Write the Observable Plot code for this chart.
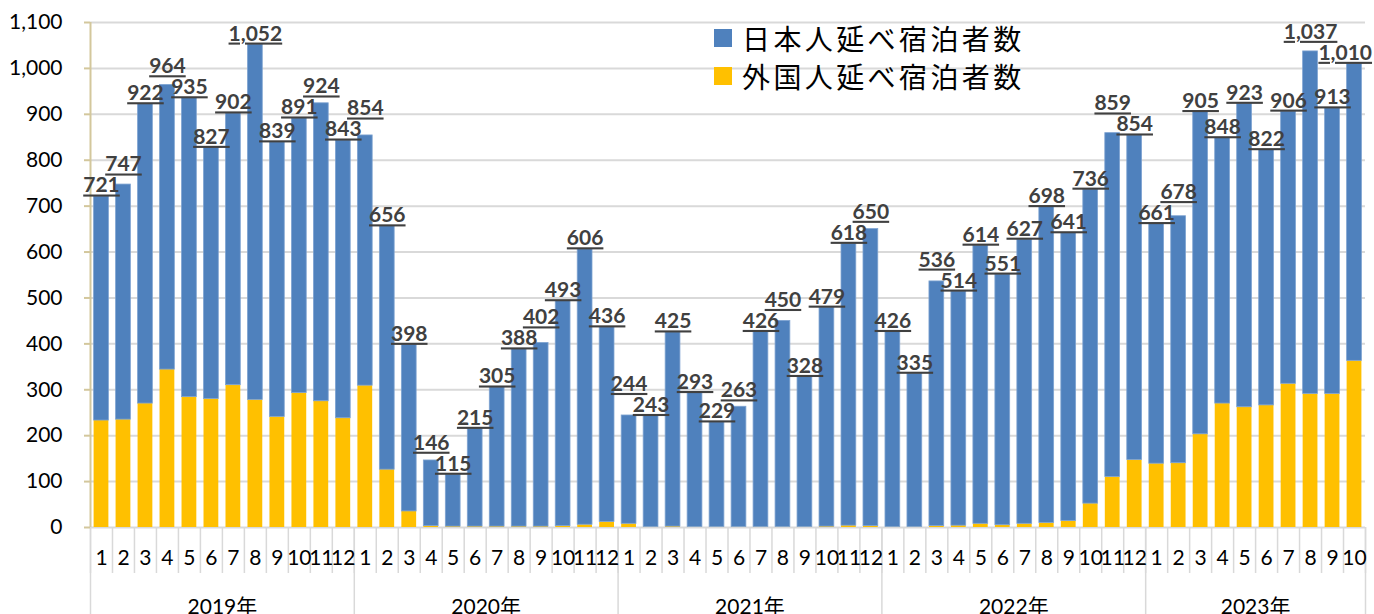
<!DOCTYPE html>
<html>
<head>
<meta charset="utf-8">
<script src="https://cdn.jsdelivr.net/npm/d3@7"></script>
<script src="https://cdn.jsdelivr.net/npm/@observablehq/plot@0.6"></script>
<style>
  html, body { margin: 0; padding: 0; background: #fff; overflow: hidden; }
  #wrap { position: relative; width: 1374px; height: 614px; }
  #legend { position: absolute; left: 714px; top: 19px; font-family: "Noto Sans CJK JP", sans-serif; font-size: 28px; letter-spacing: 3.4px; color: #000; line-height: 38px; }
  #legend .row { display: flex; align-items: center; }
  #legend .sw { width: 18px; height: 18px; margin-right: 10px; display: inline-block; }
  svg text.lbl { text-decoration: underline; }
</style>
</head>
<body>
<div id="wrap"></div>
<script>
// ---- data ----
const years = ["2019年", "2020年", "2021年", "2022年", "2023年"];
const monthsPerYear = [12, 12, 12, 12, 10];
const seriesNames = ["日本人延べ宿泊者数", "外国人延べ宿泊者数"];
const seriesColors = ["#4F81BD", "#FFC000"];

// total stays (labels on top of bars)
const totals = [
  721, 747, 922, 964, 935, 827, 902, 1052, 839, 891, 924, 843,
  854, 656, 398, 146, 115, 215, 305, 388, 402, 493, 606, 436,
  244, 243, 425, 293, 229, 263, 426, 450, 328, 479, 618, 650,
  426, 335, 536, 514, 614, 551, 627, 698, 641, 736, 859, 854,
  661, 678, 905, 848, 923, 822, 906, 1037, 913, 1010
];
// foreign stays (yellow)
const foreign = [
  233, 235, 270, 344, 284, 280, 310, 278, 241, 293, 275, 238,
  309, 126, 35, 3, 2, 2, 2, 2, 2, 3, 6, 12,
  8, 1, 2, 1, 1, 1, 1, 1, 1, 2, 4, 3,
  1, 1, 3, 4, 8, 5, 8, 10, 14, 52, 110, 147,
  139, 140, 203, 270, 262, 266, 313, 291, 291, 363
];
const yTicks = d3.range(0, 1101, 100);

// ---- layout constants ----
const W = 1374, H = 614, mL = 90, mR = 9, mT = 22, mB = 87;
const labelFont = 21;

// ---- build table ----
const rows = [];
let idx = 0;
years.forEach((yr, yi) => {
  for (let m = 1; m <= monthsPerYear[yi]; m++) {
    rows.push({i: idx, month: m, year: yr, total: totals[idx], foreign: foreign[idx], japanese: totals[idx] - foreign[idx]});
    idx++;
  }
});
const N = rows.length;
const yearStarts = [];
const yearMids = [];
let s = 0;
years.forEach((yr, yi) => { yearStarts.push(s); yearMids.push({year: yr, x: s + monthsPerYear[yi] / 2}); s += monthsPerYear[yi]; });
yearStarts.push(N);
const monthBounds = d3.range(0, N + 1);

// ---- label placement: keep inside the page, then raise overlapping labels ----
const yPix = d3.scaleLinear([0, 1100], [H - mB, mT]);
const xPix = d3.scaleLinear([0, N], [mL, W - mR]);
const fmt = d3.format(",");
const gap = 4, lineH = 21;
const lab = rows.map(d => {
  const text = fmt(d.total);
  const half = (text.replace(/,/g, "").length * 0.58 + (text.includes(",") ? 0.28 : 0)) * labelFont / 2;
  const cx = Math.min(xPix(d.i + 0.5), W - 2 - half);
  return {text, half, cx, py: yPix(d.total) - gap};
});
for (let pass = 0; pass < 40; pass++) {
  let changed = false;
  for (let k = 0; k < N; k++) {
    for (let j = k + 1; j <= Math.min(N - 1, k + 3); j++) {
      const a = lab[k], b = lab[j];
      const hOverlap = Math.abs(a.cx - b.cx) < a.half + b.half;
      if (hOverlap && Math.abs(a.py - b.py) < lineH - 0.01) {
        const hi = a.py <= b.py ? a : b;
        const lo = hi === a ? b : a;
        hi.py = lo.py - lineH;
        changed = true;
      }
    }
  }
  if (!changed) break;
}
rows.forEach((d, k) => {
  d.label = lab[k].text;
  d.labelX = xPix.invert(lab[k].cx);
  d.labelY = yPix.invert(lab[k].py);
});

const font = "Lato, 'Noto Sans CJK JP', sans-serif";

const chart = Plot.plot({
  width: W,
  height: H,
  marginLeft: mL,
  marginRight: mR,
  marginTop: mT,
  marginBottom: mB,
  style: {fontFamily: font, background: "#fff"},
  x: {domain: [0, N], axis: null},
  y: {domain: [0, 1100], axis: null},
  marks: [
    // gridlines
    Plot.ruleY(yTicks, {y: d => d, x1: 0, x2: N, stroke: "#d9d9d9", strokeWidth: 2}),
    // bars
    Plot.rectY(rows, {x1: d => d.i, x2: d => d.i + 1, y1: 0, y2: "foreign", fill: seriesColors[1], insetLeft: 3.6, insetRight: 3.6}),
    Plot.rectY(rows, {x1: d => d.i, x2: d => d.i + 1, y1: "foreign", y2: "total", fill: seriesColors[0], stroke: "#7ea3d1", strokeWidth: 0.8, insetLeft: 3.6, insetRight: 3.6}),
    // month separators
    Plot.ruleX(monthBounds, {x: d => d, y1: 0, y2: 0, insetBottom: -46, stroke: "#d9d9d9", strokeWidth: 1.5}),
    // year separators
    Plot.ruleX(yearStarts, {x: d => d, y1: 0, y2: 0, insetBottom: -100, stroke: "#d9d9d9", strokeWidth: 1.5}),
    // y axis line
    Plot.ruleX([0], {x: d => d, y1: 0, y2: 1100, stroke: "#d3c79c", strokeWidth: 2}),
    // y ticks
    Plot.ruleY(yTicks, {y: d => d, x1: 0, x2: 0, insetLeft: -6, stroke: "#d3c79c", strokeWidth: 2}),
    // y tick labels
    Plot.text(yTicks, {x: 0, y: d => d, text: d => fmt(d), textAnchor: "end", dx: -28, fontSize: 21, fill: "#000"}),
    // month labels
    Plot.text(rows, {x: d => d.i + 0.5, y: 0, text: d => String(d.month), dy: 31, fontSize: 21, fill: "#000"}),
    // year labels
    Plot.text(yearMids, {x: "x", y: 0, text: "year", dy: 80, fontSize: 21, fill: "#000"}),
    // value labels
    Plot.text(rows, {x: "labelX", y: "labelY", text: "label", lineAnchor: "bottom", fontSize: labelFont, fontWeight: "bold", fill: "#404040"})
  ]
});

// underline value labels
d3.select(chart).selectAll("g[aria-label='text']").filter((d, i, nodes) => i === nodes.length - 1).selectAll("text").attr("class", "lbl");

const wrap = document.getElementById("wrap");
wrap.appendChild(chart);

const legend = document.createElement("div");
legend.id = "legend";
legend.innerHTML = seriesNames.map((n, k) => `<div class="row"><span class="sw" style="background:${seriesColors[k]}"></span><span>${n}</span></div>`).join("");
wrap.appendChild(legend);
</script>
</body>
</html>
